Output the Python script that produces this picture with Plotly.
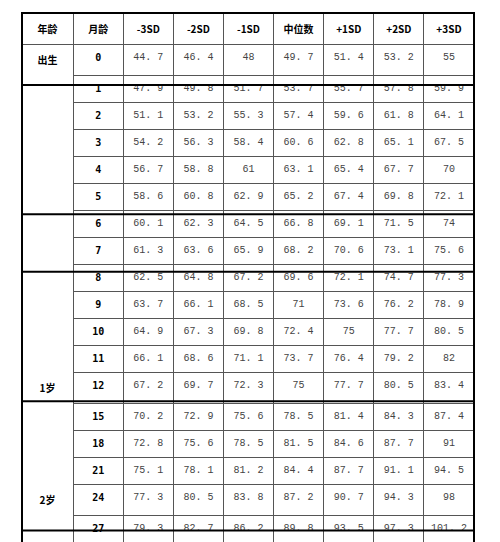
import plotly.graph_objects as go

headers = ["年龄", "月龄", "-3SD", "-2SD", "-1SD", "中位数", "+1SD", "+2SD", "+3SD"]

months = [0, 1, 2, 3, 4, 5, 6, 7, 8, 9, 10, 11, 12, 15, 18, 21, 24, 27, 30, 33, 36,
          39, 42, 45, 48, 51, 54, 57, 60, 63, 66, 69, 72, 75, 78, 81]

age_labels = {0: "出生", 12: "1岁", 24: "2岁", 36: "3岁", 48: "4岁", 60: "5岁", 72: "6岁"}

sd_m3 = ["44.7", "47.9", "51.1", "54.2", "56.7", "58.6", "60.1", "61.3", "62.5", "63.7", "64.9", "66.1",
         "67.2", "70.2", "72.8", "75.1", "77.3", "79.3", "81.4", "83.4", "85.4", "86.6", "88.4", "90.1",
         "91.7", "93.2", "94.8", "96.4", "97.8", "99.3", "100.7", "102", "103.2", "104.4", "105.5", "106.7"]
sd_m2 = ["46.4", "49.8", "53.2", "56.3", "58.8", "60.8", "62.3", "63.6", "64.8", "66.1", "67.3", "68.6",
         "69.7", "72.9", "75.6", "78.1", "80.5", "82.7", "84.8", "86.9", "88.9", "90.1", "91.9", "93.7",
         "95.4", "97", "98.7", "100.3", "101.8", "103.4", "104.9", "106.3", "107.6", "108.8", "110.1", "111.4"]
sd_m1 = ["48", "51.7", "55.3", "58.4", "61", "62.9", "64.5", "65.9", "67.2", "68.5", "69.8", "71.1",
         "72.3", "75.6", "78.5", "81.2", "83.8", "86.2", "88.4", "90.5", "92.5", "93.8", "95.6", "97.4",
         "99.2", "100.9", "102.7", "104.4", "106", "107.6", "109.2", "110.7", "112", "113.4", "114.7", "116.1"]
median = ["49.7", "53.7", "57.4", "60.6", "63.1", "65.2", "66.8", "68.2", "69.6", "71", "72.4", "73.7",
          "75", "78.5", "81.5", "84.4", "87.2", "89.8", "92.1", "94.3", "96.3", "97.5", "99.4", "101.2",
          "103.1", "104.9", "106.7", "108.5", "110.2", "111.9", "113.5", "115.2", "116.6", "118", "119.4", "121"]
sd_p1 = ["51.4", "55.7", "59.6", "62.8", "65.4", "67.4", "69.1", "70.6", "72.1", "73.6", "75", "76.4",
         "77.7", "81.4", "84.6", "87.7", "90.7", "93.5", "95.9", "98.1", "100.1", "101.4", "103.3", "105.1",
         "107", "109", "110.9", "112.8", "114.5", "116.2", "118", "119.7", "121.2", "122.7", "124.3", "125.9"]
sd_p2 = ["53.2", "57.8", "61.8", "65.1", "67.7", "69.8", "71.5", "73.1", "74.7", "76.2", "77.7", "79.2",
         "80.5", "84.3", "87.7", "91.1", "94.3", "97.3", "99.8", "102", "104.1", "105.4", "107.2", "109.2",
         "111.1", "113.1", "115.2", "117.1", "118.9", "120.7", "122.6", "124.4", "126", "127.6", "129.2", "130.9"]
sd_p3 = ["55", "59.9", "64.1", "67.5", "70", "72.1", "74", "75.6", "77.3", "78.9", "80.5", "82",
         "83.4", "87.4", "91", "94.5", "98", "101.2", "103.8", "106.1", "108.1", "109.4", "111.3", "113.3",
         "115.3", "117.4", "119.5", "121.6", "123.4", "125.3", "127.2", "129.1", "130.8", "132.5", "134.2", "136.1"]

# rows followed by a thick separator line
group_ends = [3, 12, 24, 51, 78]

W, H = 500, 542
x0, x1 = 14, 466
y0, y1 = 5, 537
row_h = (y1 - y0) / (len(months) + 1)

age_col = ["<b>" + age_labels.get(m, "") + "</b>" for m in months]
month_col = ["<b>" + str(m) + "</b>" for m in months]
value_cols = [[v.replace(".", ".\u00a0") for v in col] for col in [sd_m3, sd_m2, sd_m1, median, sd_p1, sd_p2, sd_p3]]

line_col = "#555555"
fig = go.Figure(go.Table(
    domain=dict(x=[x0 / W, x1 / W], y=[1 - y1 / H, 1 - y0 / H]),
    columnwidth=[51] + [50] * 8,
    header=dict(
        values=["<b>" + h + "</b>" for h in headers],
        height=row_h,
        align="center",
        fill_color="white",
        line=dict(color=line_col, width=1),
        font=dict(family="Noto Sans CJK SC, DejaVu Sans", size=10, color="black"),
    ),
    cells=dict(
        values=[age_col, month_col] + value_cols,
        height=row_h,
        align="center",
        fill_color="white",
        line=dict(color=["white"] + [line_col] * 8, width=1),
        font=dict(family=["Noto Sans CJK SC, DejaVu Sans", "DejaVu Sans Mono"] + ["Liberation Mono"] * 7,
                  size=10, color=["black", "black"] + ["#444444"] * 7),
    ),
))

# outer border and thick group separators
shapes = [dict(type="rect", xref="paper", yref="paper", x0=x0 / W, x1=x1 / W,
               y0=1 - y1 / H, y1=1 - y0 / H, line=dict(color="black", width=2))]
for m in group_ends:
    i = months.index(m) + 2
    yy = 1 - (y0 + i * row_h) / H
    shapes.append(dict(type="line", xref="paper", yref="paper", x0=x0 / W, x1=x1 / W,
                       y0=yy, y1=yy, line=dict(color="black", width=2)))

fig.update_layout(width=W, height=H, margin=dict(l=0, r=0, t=0, b=0),
                  paper_bgcolor="white", shapes=shapes)
fig.write_html("out.html")
